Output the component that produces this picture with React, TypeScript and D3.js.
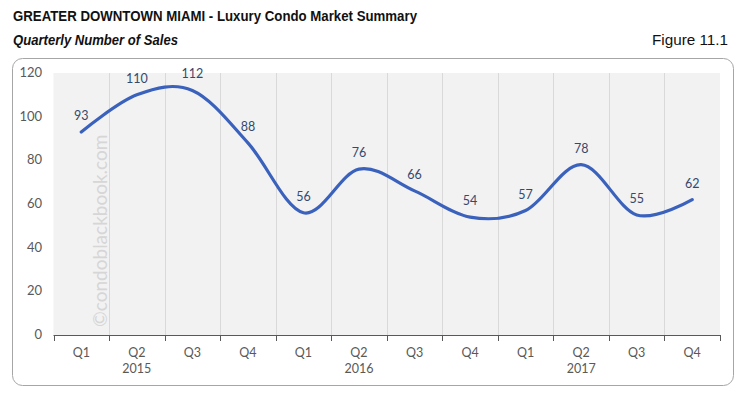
import React, { useRef, useEffect } from 'react';
import * as d3 from 'd3';

const quarters = ['Q1', 'Q2', 'Q3', 'Q4', 'Q1', 'Q2', 'Q3', 'Q4', 'Q1', 'Q2', 'Q3', 'Q4'];
const years = ['2015', '2016', '2017'];
const sales = [93, 110, 112, 88, 56, 76, 66, 54, 57, 78, 55, 62];
const yTicks = [0, 20, 40, 60, 80, 100, 120];

const App = () => {
  const ref = useRef<SVGSVGElement>(null);

  useEffect(() => {
    const svg = d3.select(ref.current);
    svg.selectAll('*').remove();

    const width = 741;
    const height = 398;
    const left = 53.5;
    const right = 720;
    const top = 73;
    const bottom = 335;
    const labelFont = 'Lato, "Open Sans", sans-serif';
    const titleFont = '"Liberation Sans Narrow", "Liberation Sans", Arial, sans-serif';

    svg.attr('width', width).attr('height', height);

    // titles
    svg.append('text')
      .attr('x', 13).attr('y', 21)
      .attr('textLength', 404).attr('lengthAdjust', 'spacingAndGlyphs')
      .style('font-family', titleFont)
      .style('font-size', '14px').style('font-weight', 'bold').attr('fill', '#111')
      .text('GREATER DOWNTOWN MIAMI - Luxury Condo Market Summary');
    svg.append('text')
      .attr('x', 13).attr('y', 45)
      .attr('textLength', 165).attr('lengthAdjust', 'spacingAndGlyphs')
      .style('font-family', titleFont)
      .style('font-size', '14px').style('font-weight', 'bold').style('font-style', 'italic').attr('fill', '#111')
      .text('Quarterly Number of Sales');
    svg.append('text')
      .attr('x', 652).attr('y', 45)
      .attr('textLength', 76).attr('lengthAdjust', 'spacingAndGlyphs')
      .style('font-family', titleFont)
      .style('font-size', '14px').attr('fill', '#111')
      .text('Figure 11.1');

    // frame
    svg.append('rect')
      .attr('x', 12.5).attr('y', 58.5).attr('width', 721).attr('height', 327)
      .attr('rx', 10).attr('fill', '#fff').attr('stroke', '#a6a6a6').attr('stroke-width', 1);

    const x = d3.scaleBand<number>().domain(d3.range(quarters.length)).range([left, right]);
    const y = d3.scaleLinear().domain([0, 120]).range([bottom, top]);

    // plot background
    svg.append('rect')
      .attr('x', left).attr('y', top).attr('width', right - left).attr('height', bottom - top)
      .attr('fill', '#f2f2f2');

    // vertical grid lines
    svg.append('g').selectAll('line')
      .data(d3.range(1, quarters.length))
      .enter().append('line')
      .attr('x1', (i) => Math.round(x(i)!) + 0.5).attr('x2', (i) => Math.round(x(i)!) + 0.5)
      .attr('y1', top).attr('y2', bottom)
      .attr('stroke', '#d9d9d9').attr('stroke-width', 1);

    // watermark
    svg.append('text')
      .attr('transform', `translate(107, 327) rotate(-90)`)
      .style('font-family', labelFont).style('font-size', '19px')
      .attr('fill', '#d6d6d6')
      .text('©condoblackbook.com');

    // x axis
    svg.append('line')
      .attr('x1', left).attr('x2', right).attr('y1', bottom + 0.5).attr('y2', bottom + 0.5)
      .attr('stroke', '#595959').attr('stroke-width', 1);
    svg.append('g').selectAll('line')
      .data(d3.range(0, quarters.length + 1))
      .enter().append('line')
      .attr('x1', (i) => Math.round(left + i * x.bandwidth()) + 0.5)
      .attr('x2', (i) => Math.round(left + i * x.bandwidth()) + 0.5)
      .attr('y1', bottom).attr('y2', bottom + 6)
      .attr('stroke', '#595959');

    svg.append('g').selectAll('text')
      .data(quarters)
      .enter().append('text')
      .attr('x', (d, i) => x(i)! + x.bandwidth() / 2)
      .attr('y', bottom + 22)
      .attr('text-anchor', 'middle')
      .style('font-family', labelFont).style('font-size', '12.5px').attr('fill', '#595959')
      .text((d) => d);

    svg.append('g').selectAll('text')
      .data(years)
      .enter().append('text')
      .attr('x', (d, i) => x(i * 4 + 1)! + x.bandwidth() / 2)
      .attr('y', bottom + 38)
      .attr('text-anchor', 'middle')
      .style('font-family', labelFont).style('font-size', '12.5px').attr('fill', '#595959')
      .text((d) => d);

    // y axis labels
    svg.append('g').selectAll('text')
      .data(yTicks)
      .enter().append('text')
      .attr('x', 42)
      .attr('y', (d) => y(d) + 4)
      .attr('text-anchor', 'end')
      .style('font-family', labelFont).style('font-size', '13px').attr('fill', '#595959')
      .text((d) => d);

    // line
    const line = d3.line<number>()
      .x((d, i) => x(i)! + x.bandwidth() / 2)
      .y((d) => y(d))
      .curve(d3.curveCardinal.tension(0));

    svg.append('path')
      .datum(sales)
      .attr('d', line)
      .attr('fill', 'none')
      .attr('stroke', '#3a62bd')
      .attr('stroke-width', 3.2)
      .attr('stroke-linecap', 'round');

    // data labels
    svg.append('g').selectAll('text')
      .data(sales)
      .enter().append('text')
      .attr('x', (d, i) => x(i)! + x.bandwidth() / 2)
      .attr('y', (d) => y(d) - 12)
      .attr('text-anchor', 'middle')
      .style('font-family', labelFont).style('font-size', '12.5px').attr('fill', '#34496e')
      .text((d) => d);
  }, []);

  return <svg ref={ref} style={{ position: 'absolute', left: 0, top: 0 }}></svg>;
};

export default App;
